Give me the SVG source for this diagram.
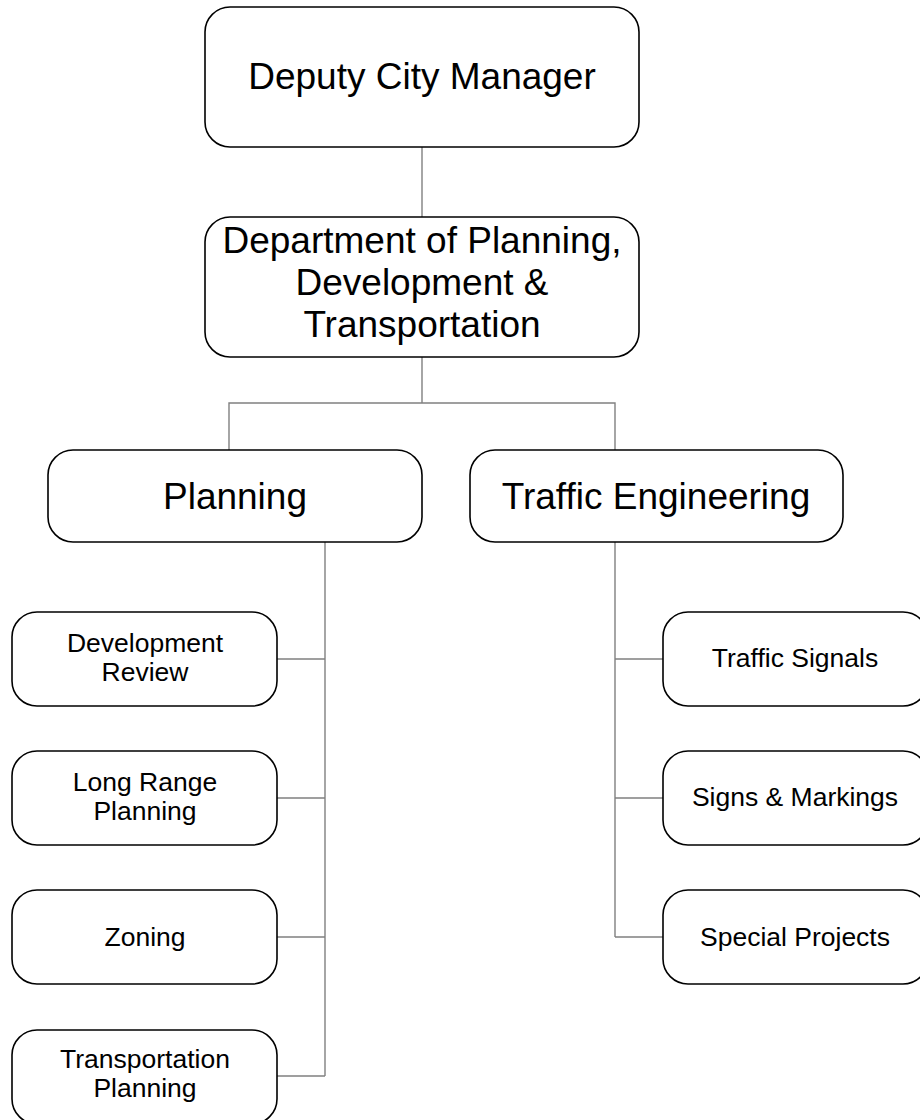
<svg xmlns="http://www.w3.org/2000/svg" width="920" height="1120" viewBox="0 0 920 1120">
<style>
.box{fill:#fff;stroke:#000;stroke-width:1.6}
.big{font-family:"Liberation Sans",Arial,sans-serif;font-size:37px;fill:#000;text-anchor:middle}
.sm{font-family:"Liberation Sans",Arial,sans-serif;font-size:26.5px;fill:#000;text-anchor:middle}
.con{fill:none;stroke:#808080;stroke-width:1.4}
</style>
<rect width="920" height="1120" fill="#fff"/>
<g id="connectors">
<path class="con" d="M422 147V217"/>
<path class="con" d="M422 357V403M229 450V403H615V450"/>
<path class="con" d="M325 542V1076M277 659H325M277 798H325M277 937H325M277 1076H325"/>
<path class="con" d="M615 542V937M615 659H663M615 798H663M615 937H663"/>
</g>
<g id="n-dcm"><rect class="box" x="205" y="7" width="434" height="140" rx="25"/><text class="big" x="422" y="89">Deputy City Manager</text></g>
<g id="n-dept"><rect class="box" x="205" y="217" width="434" height="140" rx="25"/><text class="big" x="422" y="253">Department of Planning,</text><text class="big" x="422" y="295">Development &amp;</text><text class="big" x="422" y="337">Transportation</text></g>
<g id="n-planning"><rect class="box" x="48" y="450" width="374" height="92" rx="25"/><text class="big" x="235" y="509">Planning</text></g>
<g id="n-traffic"><rect class="box" x="470" y="450" width="373" height="92" rx="25"/><text class="big" x="656" y="509">Traffic Engineering</text></g>
<g id="n-devreview"><rect class="box" x="12" y="612" width="265" height="94" rx="25"/><text class="sm" x="145" y="652">Development</text><text class="sm" x="145" y="681">Review</text></g>
<g id="n-longrange"><rect class="box" x="12" y="751" width="265" height="94" rx="25"/><text class="sm" x="145" y="791">Long Range</text><text class="sm" x="145" y="820">Planning</text></g>
<g id="n-zoning"><rect class="box" x="12" y="890" width="265" height="94" rx="25"/><text class="sm" x="145" y="946">Zoning</text></g>
<g id="n-transplan"><rect class="box" x="12" y="1030" width="265" height="94" rx="25"/><text class="sm" x="145" y="1068">Transportation</text><text class="sm" x="145" y="1097">Planning</text></g>
<g id="n-signals"><rect class="box" x="663" y="612" width="265" height="94" rx="25"/><text class="sm" x="795" y="667">Traffic Signals</text></g>
<g id="n-signs"><rect class="box" x="663" y="751" width="265" height="94" rx="25"/><text class="sm" x="795" y="806">Signs &amp; Markings</text></g>
<g id="n-special"><rect class="box" x="663" y="890" width="265" height="94" rx="25"/><text class="sm" x="795" y="946">Special Projects</text></g>
</svg>
